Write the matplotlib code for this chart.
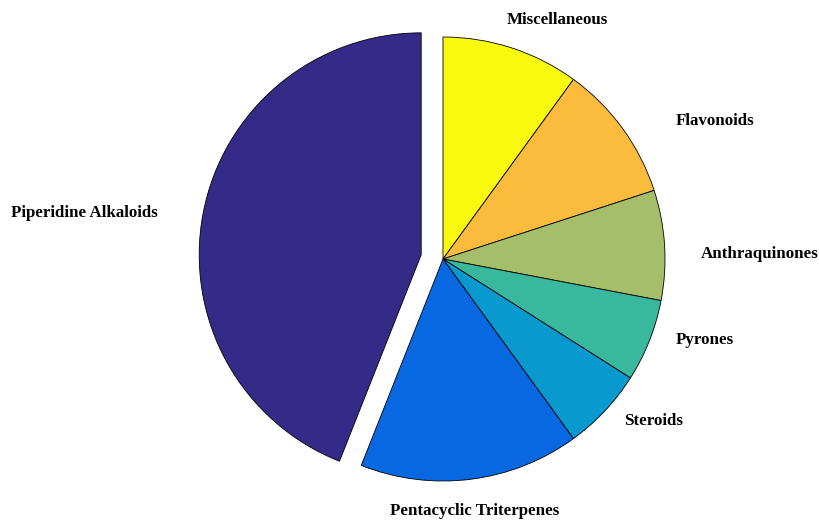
import numpy as np
import matplotlib
matplotlib.use('Agg')
import matplotlib.pyplot as plt

# Data (clockwise from top)
categories = ['Miscellaneous', 'Flavonoids', 'Anthraquinones', 'Pyrones',
              'Steroids', 'Pentacyclic Triterpenes', 'Piperidine Alkaloids']
values = [10, 10, 8, 6, 6, 16, 44]
colors = ['#F8FA0D', '#FBBC3D', '#A5BE6A', '#38B89D',
          '#0899CE', '#0868E1', '#352A87']
explode = [0, 0, 0, 0, 0, 0, 0.1]

# label centres, in units of the pie radius (labels were hand-placed)
label_pos = [(0.514, 1.077), (1.225, 0.622), (1.428, 0.023), (1.180, -0.365),
             (0.950, -0.730), (0.144, -1.135), (-1.617, 0.207)]

fig = plt.figure(figsize=(8.19, 5.21), dpi=100)
ax = fig.add_axes([0, 0, 1, 1])

wedges, texts = ax.pie(values, labels=categories, colors=colors, explode=explode,
                       startangle=90, counterclock=False,
                       wedgeprops=dict(edgecolor='black', linewidth=0.6),
                       textprops=dict(family='Liberation Serif', fontweight='bold',
                                      fontsize=12.2))

for t, pos in zip(texts, label_pos):
    t.set_position(pos)
    t.set_ha('center')
    t.set_va('center')

# place circle: centre at (443, 259) px, radius 222 px
R = 222
ax.set_xlim(-443 / R, (819 - 443) / R)
ax.set_ylim(-(521 - 259) / R, 259 / R)
ax.set_aspect('equal')
ax.axis('off')

fig.savefig('out.png', dpi=100)
